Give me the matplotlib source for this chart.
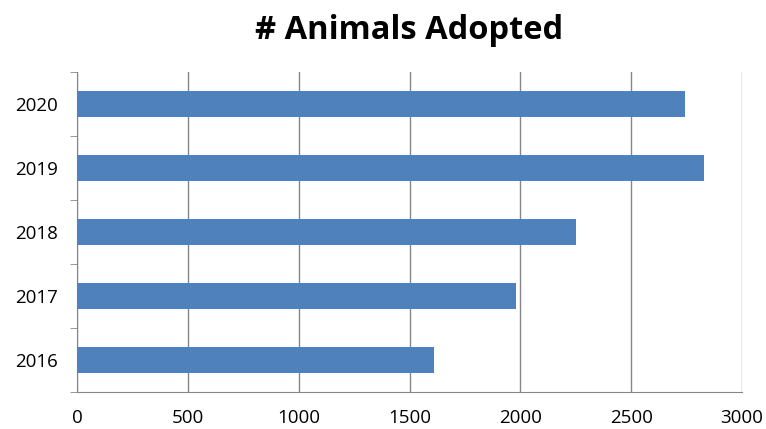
import matplotlib
matplotlib.use('Agg')
import matplotlib.pyplot as plt
import numpy as np

years = ['2016', '2017', '2018', '2019', '2020']
adopted = [1610, 1980, 2250, 2830, 2745]
xticks = [0, 500, 1000, 1500, 2000, 2500, 3000]

plt.rcParams['font.family'] = ['Open Sans', 'DejaVu Sans']

fig = plt.figure(figsize=(7.66, 4.29), dpi=100)
ax = fig.add_axes([77 / 766, 1 - 392 / 429, (742 - 77) / 766, (392 - 72) / 429])

pos = np.arange(len(years))
ax.barh(pos, adopted, height=0.4, color='#4F81BD', zorder=3)

ax.set_xlim(0, 3000)
ax.set_ylim(-0.5, len(years) - 0.5)
ax.set_xticks(xticks)
ax.set_xticklabels([str(v) for v in xticks], fontsize=13.5)
ax.set_yticks(pos)
ax.set_yticklabels(years, fontsize=13.5)
ax.set_yticks(np.arange(len(years) + 1) - 0.5, minor=True)

ax.tick_params(axis='x', length=0, pad=12)
ax.tick_params(axis='y', which='major', length=0, pad=14)
ax.tick_params(axis='y', which='minor', length=5, color='#868686')

ax.grid(axis='x', color='#868686', linewidth=1, zorder=0)
for s in ['top', 'right']:
    ax.spines[s].set_visible(False)
for s in ['left', 'bottom']:
    ax.spines[s].set_color('#868686')

fig.text(0.534, 0.93, '# Animals Adopted', ha='center', va='center',
         fontsize=23.5, fontweight='bold')

fig.savefig('out.png')
